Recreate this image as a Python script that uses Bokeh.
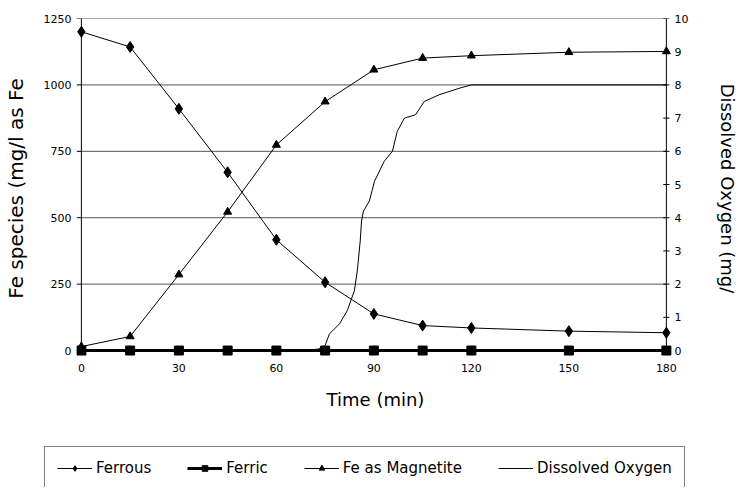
from bokeh.plotting import figure
from bokeh.layouts import column
from bokeh.models import Range1d, LinearAxis, FixedTicker, Legend, LegendItem
from bokeh.embed import file_html
from bokeh.resources import INLINE

# ---- data ----
TIME = [0, 15, 30, 45, 60, 75, 90, 105, 120, 150, 180]
FERROUS = [1200, 1143, 910, 671, 417, 257, 138, 94, 85, 73, 67]
FERRIC = [0, 0, 0, 0, 0, 0, 0, 0, 0, 0, 0]
MAGNETITE = [15, 53, 286, 522, 774, 937, 1057, 1101, 1110, 1123, 1126]

DO_TIME = [0, 70, 73, 75, 76.3, 79.4, 81.8, 84, 84.9, 85.8, 86.2, 86.8, 88.6,
           90.2, 93.2, 95.7, 97.2, 99.4, 102.8, 105.5, 110, 116.3, 120, 180]
DO_VALUES = [0, 0, 0.05, 0.15, 0.5, 0.8, 1.2, 1.8, 2.4, 3.3, 3.9, 4.2, 4.5,
             5.1, 5.7, 6.0, 6.6, 7.0, 7.1, 7.5, 7.7, 7.9, 8.0, 8.0]

X_TICKS = [0, 30, 60, 90, 120, 150, 180]
Y_TICKS = [0, 250, 500, 750, 1000, 1250]
Y2_TICKS = [0, 1, 2, 3, 4, 5, 6, 7, 8, 9, 10]

SERIES_NAMES = ["Ferrous", "Ferric", "Fe as Magnetite", "Dissolved Oxygen"]

FONT = "DejaVu Sans"
NAN = float("nan")

p = figure(frame_width=598, frame_height=340,
           x_range=Range1d(-1.5, 182.5), y_range=Range1d(-30, 1250),
           output_backend="svg", toolbar_location=None,
           min_border_left=73, min_border_right=65,
           min_border_top=18, min_border_bottom=88)
p.extra_y_ranges = {"do": Range1d(-0.24, 10)}
p.outline_line_color = None
p.xgrid.visible = False
p.ygrid.visible = False

x0, x1 = X_TICKS[0], X_TICKS[-1]

# gridlines (only across the 0..180 span)
grid_y = Y_TICKS[1:]
p.segment(x0=[x0] * len(grid_y), x1=[x1] * len(grid_y),
          y0=grid_y, y1=grid_y, line_color="#555555", line_width=1)

# axis lines and tick marks drawn at the data origin
p.segment(x0=[x0], x1=[x0], y0=[Y_TICKS[0]], y1=[Y_TICKS[-1]], line_color="black", line_width=1)
p.segment(x0=[x0 - 1.5] * len(Y_TICKS), x1=[x0] * len(Y_TICKS), y0=Y_TICKS, y1=Y_TICKS,
          line_color="black", line_width=1)
p.segment(x0=[x1], x1=[x1], y0=[Y2_TICKS[0]], y1=[Y2_TICKS[-1]], y_range_name="do",
          line_color="black", line_width=1)
p.segment(x0=[x1 - 0.95] * len(Y2_TICKS), x1=[x1 + 0.95] * len(Y2_TICKS),
          y0=Y2_TICKS, y1=Y2_TICKS, y_range_name="do", line_color="black", line_width=1)


def style_axis(ax, standoff):
    ax.axis_line_color = None
    ax.major_tick_in = 0
    ax.major_tick_out = 0
    ax.minor_tick_in = 0
    ax.minor_tick_out = 0
    ax.major_label_standoff = standoff
    ax.major_label_text_font = FONT
    ax.major_label_text_font_size = "11px"
    ax.major_label_text_color = "black"
    ax.axis_label_text_font = FONT
    ax.axis_label_text_font_style = "normal"
    ax.axis_label_text_color = "black"


# x axis
xa = p.xaxis[0]
xa.ticker = FixedTicker(ticks=X_TICKS)
style_axis(xa, 5)
xa.axis_label = "Time (min)"
xa.axis_label_text_font_size = "18px"
xa.axis_label_standoff = 14

# left axis
ya = p.yaxis[0]
ya.ticker = FixedTicker(ticks=Y_TICKS)
style_axis(ya, 5)
ya.axis_label = "Fe species (mg/l as Fe"
ya.axis_label_text_font_size = "20px"
ya.axis_label_standoff = 13

# right axis
ra = LinearAxis(y_range_name="do", ticker=FixedTicker(ticks=Y2_TICKS))
style_axis(ra, 0)
ra.axis_label = "Dissolved Oxygen (mg/"
ra.axis_label_text_font_size = "18px"
ra.axis_label_standoff = 26
p.add_layout(ra, "right")

# series
p.line(DO_TIME, DO_VALUES, y_range_name="do", line_color="black", line_width=1)
p.line(TIME, FERROUS, line_color="black", line_width=1)
p.scatter(TIME, FERROUS, marker="diamond", size=11, color="black")
p.line(TIME, MAGNETITE, line_color="black", line_width=1)
p.scatter(TIME, MAGNETITE, marker="triangle", size=8, color="black")
p.line(TIME, FERRIC, line_color="black", line_width=3)
p.scatter(TIME, FERRIC, marker="square", size=9, color="black")

# ---- legend strip below the chart ----
lg = figure(width=736, height=41, x_range=Range1d(0, 1), y_range=Range1d(0, 1),
            output_backend="svg", toolbar_location=None,
            x_axis_location=None, y_axis_location=None,
            min_border_left=44, min_border_right=0,
            min_border_top=0, min_border_bottom=0)
lg.frame_align = False
lg.outline_line_color = None
lg.xgrid.visible = False
lg.ygrid.visible = False

# legend swatches (styled like the series; no visible points)
e_fe2_l = lg.line([NAN], [NAN], line_color="black", line_width=1)
e_fe2_s = lg.scatter([NAN], [NAN], marker="diamond", size=10, color="black")
e_fe3_l = lg.line([NAN], [NAN], line_color="black", line_width=3)
e_fe3_s = lg.scatter([NAN], [NAN], marker="square", size=9, color="black")
e_mag_l = lg.line([NAN], [NAN], line_color="black", line_width=1)
e_mag_s = lg.scatter([NAN], [NAN], marker="triangle", size=7, color="black")
e_do_l = lg.line([NAN], [NAN], line_color="black", line_width=1)

legend = Legend(items=[
    LegendItem(label=SERIES_NAMES[0], renderers=[e_fe2_l, e_fe2_s]),
    LegendItem(label=SERIES_NAMES[1], renderers=[e_fe3_l, e_fe3_s]),
    LegendItem(label=SERIES_NAMES[2], renderers=[e_mag_l, e_mag_s]),
    LegendItem(label=SERIES_NAMES[3], renderers=[e_do_l]),
], orientation="horizontal", location="top_left",
    glyph_width=35, glyph_height=14, label_height=14, label_standoff=4,
    spacing=36, padding=12, margin=0,
    border_line_color="black", border_line_width=1,
    label_text_font=FONT, label_text_font_size="15px", label_text_color="black",
    background_fill_color="white", background_fill_alpha=1)
lg.add_layout(legend)

layout = column(p, lg, spacing=0)
open("out.html", "w").write(file_html(layout, INLINE))
